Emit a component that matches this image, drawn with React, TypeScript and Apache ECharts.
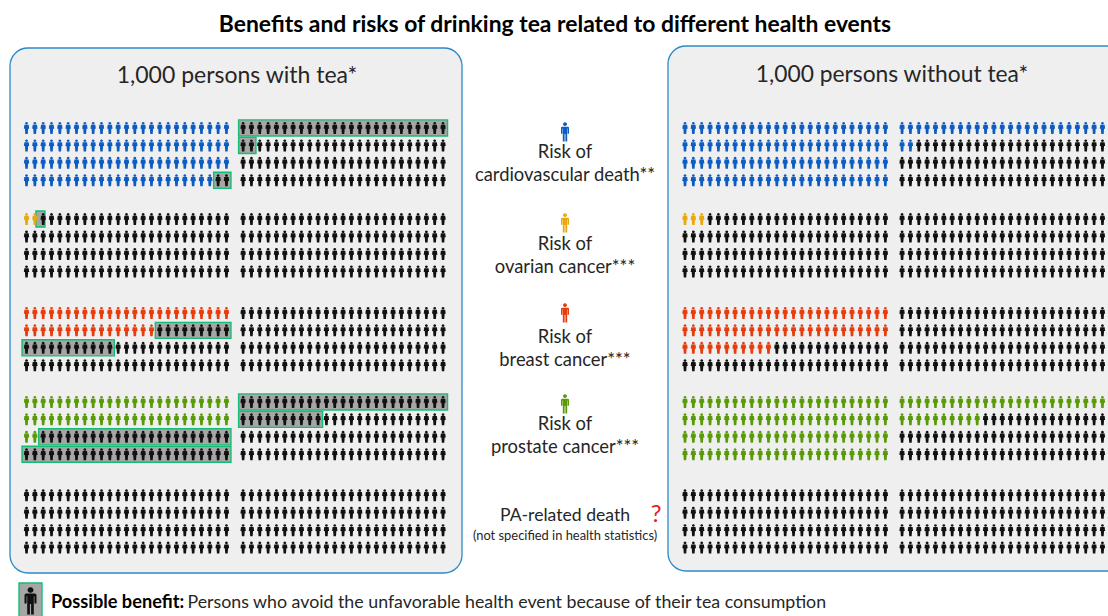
import React, { useEffect, useRef } from "react";
import * as echarts from "echarts";

const chartTitle = "Benefits and risks of drinking tea related to different health events";
const panelTitles = ["1,000 persons with tea*", "1,000 persons without tea*"];
const outcomes = ["Cardiovascular death", "Ovarian cancer", "Breast cancer", "Prostate cancer", "PA-related death"];
const eventsWithTea = [98, 2, 41, 52, 0];
const avoidedWithTea = [29, 1, 20, 83, 0];
const eventsWithoutTea = [127, 3, 61, 135, 0];
const outcomeColors = ["#0d5cc2", "#e9a80d", "#e63c0e", "#5a9a09", "#111111"];
const legendLines = [
  ["Risk of", "cardiovascular death**"],
  ["Risk of", "ovarian cancer***"],
  ["Risk of", "breast cancer***"],
  ["Risk of", "prostate cancer***"],
];

const FONT = "Lato, 'Open Sans', sans-serif";
const PERSON = "M50 2a20 20 0 1 0 .01 0z M22 48h56a12 12 0 0 1 12 12v60h-14v-52h-4v132h-18v-76h-8v76h-18v-132h-4v52h-14v-60a12 12 0 0 1 12-12z";
const PERSON_SMALL = "M50 0a21 21 0 1 0 .01 0z M18 46h64l8 66h-16l-6 88h-36l-6-88h-16z";
const PER_ROW = 25;
const PER_HALF = 100;
const BLACK = "#111111";
const BOX_FILL = "#a6a6a6";
const BOX_EDGE = "#14bd75";
const blockRowOffsets = [0, 5.22, 10.6, 15.7, 21.05];
const boxColNudge = [0, -0.33, 0, 0, 0];

echarts.graphic.registerShape("person", echarts.graphic.extendPath(PERSON as any, {}) as any);

const cell = (i: number, block: number) => {
  const half = i < PER_HALF ? 0 : 1;
  const j = i - half * PER_HALF;
  return [half * (PER_ROW + 1) + (j % PER_ROW), blockRowOffsets[block] + Math.floor(j / PER_ROW)];
};

const cellsOf = (from: number, to: number, block: number) => {
  const out: number[][] = [];
  for (let i = from; i < to; i++) out.push(cell(i, block));
  return out;
};

const runsOf = (from: number, to: number, block: number) => {
  const runs: number[][] = [];
  for (let i = from; i < to; i++) {
    const [c, r] = cell(i, block);
    const last = runs[runs.length - 1];
    if (last && last[2] === r) last[1] = c + boxColNudge[block];
    else runs.push([c + boxColNudge[block], c + boxColNudge[block], r]);
  }
  return runs;
};

const personSeries = (name: string, gridIndex: number, color: string, data: number[][]) => ({
  type: "scatter",
  name,
  xAxisIndex: gridIndex,
  yAxisIndex: gridIndex,
  symbol: "path://" + PERSON_SMALL,
  symbolSize: [5.4, 12],
  silent: true,
  progressive: 0,
  z: 4,
  itemStyle: { color, opacity: 1 },
  data,
});

const boxSeries = (data: number[][]) => ({
  type: "custom",
  name: "Possible benefit",
  xAxisIndex: 0,
  yAxisIndex: 0,
  silent: true,
  clip: false,
  z: 3,
  encode: { x: [0, 1], y: 2 },
  renderItem: (_: any, api: any) => {
    const a = api.coord([api.value(0) - 0.54, api.value(2) - 0.46]);
    const b = api.coord([api.value(1) + 0.54, api.value(2) + 0.46]);
    return {
      type: "rect",
      shape: { x: a[0], y: a[1], width: b[0] - a[0], height: b[1] - a[1] },
      style: { fill: BOX_FILL, stroke: BOX_EDGE, lineWidth: 1.4 },
    };
  },
  data,
});

const text = (t: string, x: number, y: number, size: number, extra: any = {}) => ({
  type: "text",
  z: 5,
  style: {
    text: t,
    x,
    y,
    fill: "#262626",
    font: `${size}px ${FONT}`,
    textAlign: "center",
    textVerticalAlign: "middle",
    ...extra,
  },
});

const legendPerson = (x: number, y: number, sx: number, sy: number, fill: string) => ({
  type: "person",
  x,
  y,
  scaleX: sx,
  scaleY: sy,
  z: 6,
  style: { fill },
});

const legendPersonY = [122, 213, 303, 394];
const legendLineY = [
  [151, 174],
  [243, 266],
  [336, 359],
  [423, 446],
];

const buildOption = () => {
  const series: any[] = [];
  const boxes: number[][] = [];
  outcomes.forEach((name, b) => {
    const color = outcomeColors[b];
    const ev = eventsWithTea[b];
    const av = avoidedWithTea[b];
    series.push(personSeries(name + " (tea)", 0, color, cellsOf(0, ev, b)));
    series.push(personSeries("No event (tea)", 0, BLACK, cellsOf(ev, 2 * PER_HALF, b)));
    boxes.push(...runsOf(ev, ev + av, b));
    const ev2 = eventsWithoutTea[b];
    series.push(personSeries(name + " (no tea)", 1, color, cellsOf(0, ev2, b)));
    series.push(personSeries("No event (no tea)", 1, BLACK, cellsOf(ev2, 2 * PER_HALF, b)));
  });
  series.push(boxSeries(boxes));

  const axisBase = { type: "value", show: false, scale: false };
  const graphic: any[] = [
    {
      type: "rect",
      z: 0,
      shape: { x: 10, y: 48, width: 452, height: 525, r: 18 },
      style: { fill: "#efefef", stroke: "#2b8ac6", lineWidth: 1.3 },
    },
    {
      type: "rect",
      z: 0,
      shape: { x: 668, y: 46, width: 470, height: 525, r: 18 },
      style: { fill: "#efefef", stroke: "#2b8ac6", lineWidth: 1.3 },
    },
    text(chartTitle, 555, 23, 22.9, { fill: "#000000", font: `bold 22.9px ${FONT}` }),
    text(panelTitles[0], 237, 73.5, 23),
    text(panelTitles[1], 892, 72.5, 22.8),
    text("PA-related death", 565, 514, 17.6),
    text("(not specified in health statistics)", 565, 535, 12.9),
    text("?", 656, 512, 24, { fill: "#e0231b" }),
    {
      type: "rect",
      z: 1,
      shape: { x: 19, y: 583, width: 23, height: 36 },
      style: { fill: BOX_FILL, stroke: BOX_EDGE, lineWidth: 1.4 },
    },
    legendPerson(23, 587, 0.15, 0.137, BLACK),
    {
      type: "text",
      z: 5,
      style: {
        x: 51,
        y: 601,
        textVerticalAlign: "middle",
        text: "{b|Possible benefit:} {r|Persons who avoid the unfavorable health event because of their tea consumption}",
        rich: {
          b: { font: `bold 18.2px ${FONT}`, fill: "#000000" },
          r: { font: `17.8px ${FONT}`, fill: "#262626" },
        },
      },
    },
  ];
  legendLines.forEach((lines, i) => {
    graphic.push(legendPerson(560, legendPersonY[i], 0.1, 0.097, outcomeColors[i]));
    lines.forEach((l, j) => graphic.push(text(l, 565, legendLineY[i][j] - 0.5, 18.4)));
  });

  return {
    animation: false,
    backgroundColor: "#ffffff",
    grid: [
      { left: 18.2, top: 110.5, width: 441.5, height: 453.7, outerBoundsMode: "none" },
      { left: 676.65, top: 110.5, width: 442.5, height: 453.7, outerBoundsMode: "none" },
    ],
    xAxis: [
      { ...axisBase, gridIndex: 0, min: -1, max: 52 },
      { ...axisBase, gridIndex: 1, min: -1, max: 52 },
    ],
    yAxis: [
      { ...axisBase, gridIndex: 0, min: -1, max: 25, inverse: true },
      { ...axisBase, gridIndex: 1, min: -1, max: 25, inverse: true },
    ],
    graphic,
    series,
  };
};

export default function App() {
  const ref = useRef<HTMLDivElement>(null);
  useEffect(() => {
    document.body.style.margin = "0";
    const chart = echarts.init(ref.current!, undefined, { renderer: "svg" });
    chart.setOption(buildOption() as any);
    return () => chart.dispose();
  }, []);
  return <div ref={ref} style={{ width: 1108, height: 616 }} />;
}
